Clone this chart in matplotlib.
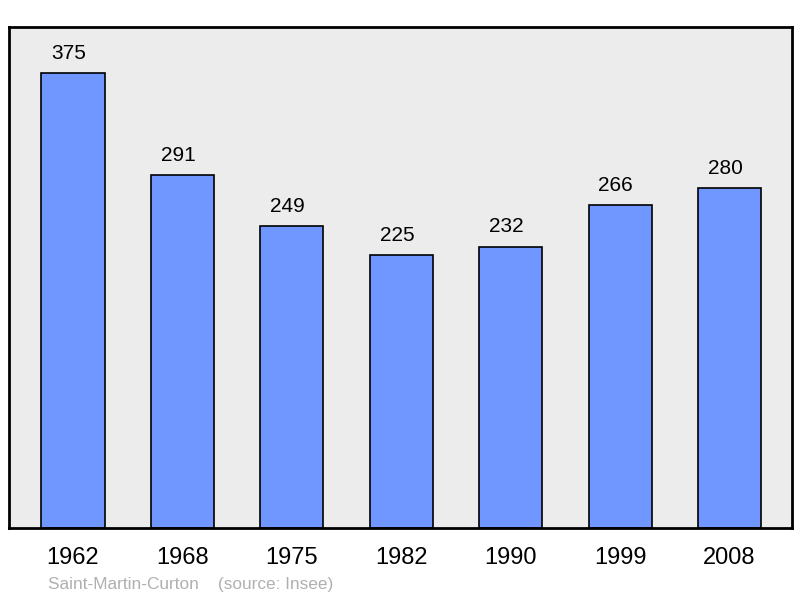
import matplotlib
matplotlib.use("Agg")
import matplotlib.pyplot as plt

plt.rcParams['font.family'] = ['Liberation Sans', 'DejaVu Sans']

years = ["1962", "1968", "1975", "1982", "1990", "1999", "2008"]
population = [375, 291, 249, 225, 232, 266, 280]
commune = "Saint-Martin-Curton"
source = "(source: Insee)"

fig = plt.figure(figsize=(8, 5.98), dpi=100)
ax = fig.add_axes([9/800, 1 - 528/598, 783/800, 501/598])
ax.set_facecolor("#ececec")

x = range(len(years))
ax.bar(x, population, width=0.576, color="#7096ff", edgecolor="black", linewidth=1.2, zorder=2)

# value labels above the bars (a bit left of centre, like the original)
for xi, v in zip(x, population):
    ax.text(xi - 0.04, v + 8.5, str(v), ha="center", va="bottom", fontsize=15)

ax.set_xlim(-0.585, 6.572)
ax.set_ylim(0, 413)
ax.set_yticks([])
ax.set_xticks(list(x))
ax.set_xticklabels(years, fontsize=17)
ax.tick_params(axis="x", length=0, pad=14)
for s in ax.spines.values():
    s.set_linewidth(2)

fig.text(48/800, 1 - 584/598, commune + "    " + source, fontsize=12.4,
         color="#b0b0b0", va="center", ha="left")

fig.savefig("out.png", dpi=100)
